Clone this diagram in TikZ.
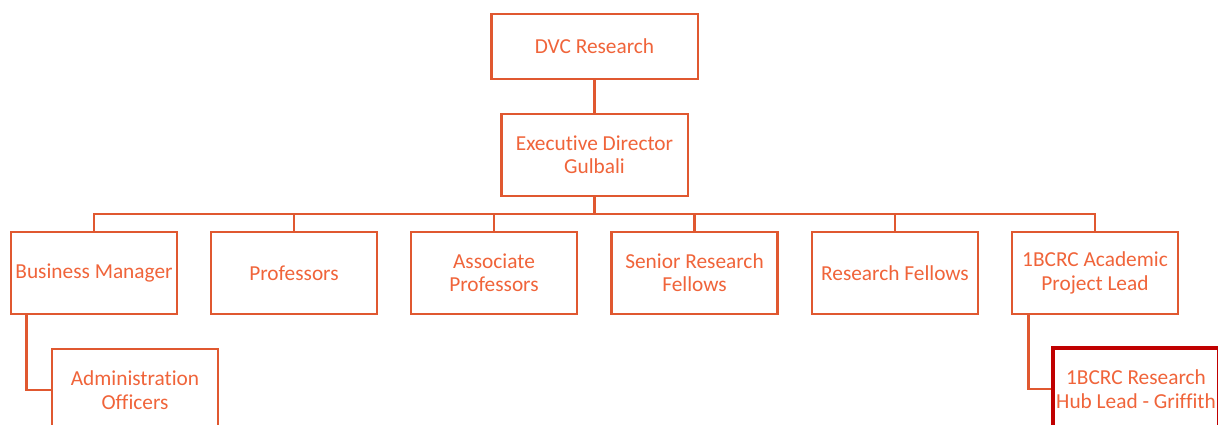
\documentclass[tikz,border=0pt]{standalone}
\usepackage{fontspec}
\setmainfont{Carlito}[Ligatures=NoCommon]
\definecolor{boxline}{HTML}{E05830}
\definecolor{boxtext}{HTML}{F0643A}
\definecolor{darkred}{HTML}{C00000}
\begin{document}
\begin{tikzpicture}[x=0.75pt,y=-0.75pt,
  orgbox/.style={draw=boxline,line width=2pt,fill=white,text=boxtext,
    minimum width=124.5pt,minimum height=61.5pt,inner sep=0pt,align=center,
    font=\fontsize{16}{17.5}\selectfont},
  conn/.style={draw=boxline,line width=1.9pt}]
\useasboundingbox (0,0) rectangle (1218,425);
\clip (0,0) rectangle (1218,425);
\node[orgbox,minimum width=155pt,minimum height=48.75pt] (dvc) at (594.5,46.5) {DVC Research};
\node[orgbox,minimum width=140pt] (exec) at (594.5,155) {Executive Director\\Gulbali};
\coordinate (bus) at (594.5,214);
\node[orgbox] (bm) at (94,273) {Business Manager};
\node[orgbox] (prof) at (294,273) {Professors};
\node[orgbox] (assoc) at (494,273) {Associate\\Professors};
\node[orgbox] (srf) at (694.5,273) {Senior Research\\Fellows};
\node[orgbox] (rf) at (895,273) {Research Fellows};
\node[orgbox] (acad) at (1095,273) {1BCRC Academic\\Project Lead};
\node[orgbox] (admin) at (135,390) {Administration\\Officers};
\node[orgbox,draw=darkred,line width=3pt] (hub) at (1136,389) {1BCRC Research\\Hub Lead - Griffith};
\draw[conn] (dvc) -- (exec);
\draw[conn] (exec) -- (bus);
\foreach \n in {bm,prof,assoc,srf,rf,acad}{
  \draw[conn] (bus) -| (\n.north);
}
\draw[conn] ([xshift=12.75pt]bm.south west) |- (admin.west);
\draw[conn] ([xshift=13.5pt]acad.south west) |- (hub.west);
\end{tikzpicture}
\end{document}
